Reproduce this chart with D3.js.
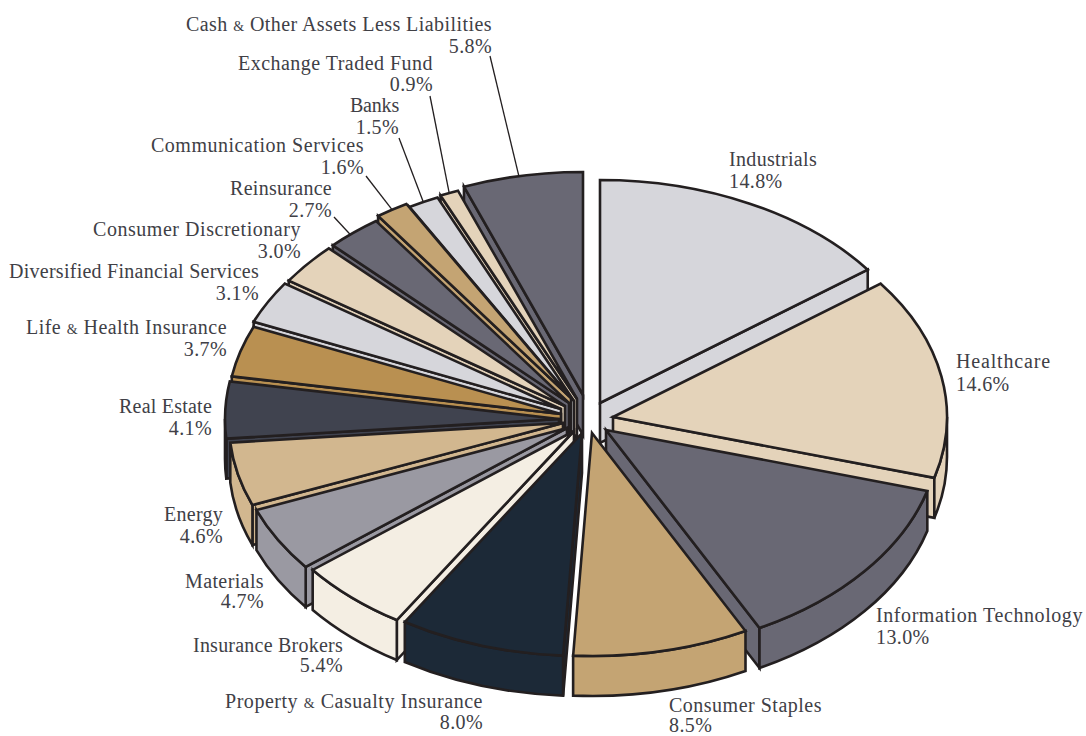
<!DOCTYPE html>
<html>
<head>
<meta charset="utf-8">
<script src="https://cdn.jsdelivr.net/npm/d3@7/dist/d3.min.js"></script>
<style>
  html, body { margin: 0; padding: 0; background: #fff; }
  svg { display: block; }
  text { font-family: "Liberation Serif", serif; font-size: 20px; fill: #404046; }
  tspan.amp { font-size: 14px; }
</style>
</head>
<body>
<svg id="chart" width="1086" height="736"></svg>
<script>
// Sector weights, clockwise from twelve o'clock
const sectors = ["Industrials", "Healthcare", "Information Technology", "Consumer Staples",
  "Property & Casualty Insurance", "Insurance Brokers", "Materials", "Energy", "Real Estate",
  "Life & Health Insurance", "Diversified Financial Services", "Consumer Discretionary",
  "Reinsurance", "Communication Services", "Banks", "Exchange Traded Fund",
  "Cash & Other Assets Less Liabilities"];
const weights = [14.8, 14.6, 13.0, 8.5, 8.0, 5.4, 4.7, 4.6, 4.1, 3.7, 3.1, 3.0, 2.7, 1.6, 1.5, 0.9, 5.8];
const fills = ["#d6d6db", "#e4d3ba", "#696874", "#c4a473", "#1c2937", "#f4eee3", "#9a99a2", "#d2b78f",
  "#40434f", "#b99051", "#d6d6db", "#e4d3ba", "#696874", "#c4a473", "#d6d6db", "#e4d3ba", "#696874"];

// How far each wedge is pulled away from the hub
const pullX = [18, 31, 24, 10, 0, -8, -15, -19, -23, -21, -21, -17, -13, -11, -8, -5, 1];
const pullY = [-15, -1, 12, 15, 15, 13, 10, 5, 1, -4, -9, -12, -15, -20, -17, -19, -23];

// Label placement: text edge, first baseline, line gap, set width of the name
const labelX = [729, 956, 876, 669, 483, 343, 264, 223, 212, 227, 259, 301, 332, 364, 399, 433, 492];
const labelY = [166, 368, 622, 712, 708, 652, 588, 521, 413, 334, 278, 236, 195, 152, 112, 70, 31];
const labelGap = [22, 23, 22, 20, 21, 20, 20, 22, 22, 22, 22, 22, 22, 22, 22, 21, 22];
const nameWidth = [88, 95, 207, 153, 258, 150, 79, 59, 93, 201, 250, 208, 102, 213, 49, 195, 306];
const labelAnchor = i => i < 4 ? "start" : "end";

// Leader lines: label end, and where along the wedge's arc they land
const leaderFrom = { 12: [334, 217], 13: [366, 176], 14: [399, 138], 15: [430, 96], 16: [490, 56] };
const leaderAlong = { 12: 0.42, 13: 0.5, 14: 0.5, 15: 0.5, 16: 0.47 };

const hub = { x: 582, y: 418 };
const rx = 334, ry = 223, depth = 40;
const ink = "#231f20";

const svg = d3.select("#chart");
const arcs = d3.pie().sort(null).value(d => d)(weights);

const wedges = arcs.map((a, i) => ({
  i, a0: a.startAngle, a1: a.endAngle, fill: fills[i],
  ax: hub.x + pullX[i], ay: hub.y + pullY[i]
}));
const rim = (w, t) => [w.ax + rx * Math.sin(t), w.ay - ry * Math.cos(t)];

const facePath = w => {
  const [x0, y0] = rim(w, w.a0), [x1, y1] = rim(w, w.a1);
  const large = w.a1 - w.a0 > Math.PI ? 1 : 0;
  return `M${w.ax},${w.ay}L${x0},${y0}A${rx},${ry} 0 ${large} 1 ${x1},${y1}Z`;
};

// The cut side that faces the viewer: the trailing edge on the right half, the leading edge on the left
const cutPath = w => {
  const t = w.a0 >= Math.PI ? w.a0 : w.a1;
  const [x, y] = rim(w, t);
  return `M${w.ax},${w.ay}L${x},${y}L${x},${y + depth}L${w.ax},${w.ay + depth}Z`;
};

// Outer wall, only for the part of the rim on the near side of the ellipse
const wallPath = w => {
  const t0 = Math.max(w.a0, Math.PI / 2), t1 = Math.min(w.a1, 3 * Math.PI / 2);
  if (t1 <= t0) return null;
  const [x0, y0] = rim(w, t0), [x1, y1] = rim(w, t1);
  return `M${x0},${y0}A${rx},${ry} 0 0 1 ${x1},${y1}L${x1},${y1 + depth}A${rx},${ry} 0 0 0 ${x0},${y0 + depth}Z`;
};

// Far wedges first: the left fan runs backwards from the top, then the right side runs forwards
const leftFan = wedges.filter(w => w.i >= 4).reverse();
const rightFan = wedges.filter(w => w.i < 4);
const order = leftFan.concat(rightFan);

const paint = svg.append("g")
  .attr("stroke", ink).attr("stroke-width", 2.6).attr("stroke-linejoin", "miter");

order.forEach(w => {
  const g = paint.append("g").attr("fill", w.fill);
  if (w.i !== 3) g.append("path").attr("d", cutPath(w));
  const wall = wallPath(w);
  if (wall) g.append("path").attr("d", wall);
  g.append("path").attr("d", facePath(w));
});

const leaders = svg.append("g").attr("stroke", ink).attr("stroke-width", 1.3).attr("fill", "none");
Object.entries(leaderFrom).forEach(([k, from]) => {
  const w = wedges[+k];
  const [x, y] = rim(w, w.a0 + (w.a1 - w.a0) * leaderAlong[k]);
  leaders.append("line").attr("x1", from[0]).attr("y1", from[1]).attr("x2", x).attr("y2", y);
});

// Labels: the ampersand is set a size smaller, and names are tracked out to their set width
const labels = svg.append("g");
sectors.forEach((name, i) => {
  const head = labels.append("text").attr("text-anchor", labelAnchor(i))
    .attr("x", labelX[i]).attr("y", labelY[i]);
  name.split("&").forEach((part, j) => {
    if (j > 0) head.append("tspan").attr("class", "amp").text("&");
    head.append("tspan").text(part);
  });
  const natural = head.node().getComputedTextLength();
  head.style("letter-spacing", ((nameWidth[i] - natural) / name.length) + "px");

  labels.append("text").attr("text-anchor", labelAnchor(i))
    .attr("x", labelX[i]).attr("y", labelY[i] + labelGap[i])
    .style("letter-spacing", "0.4px")
    .text(d3.format(".1f")(weights[i]) + "%");
});
</script>
</body>
</html>
